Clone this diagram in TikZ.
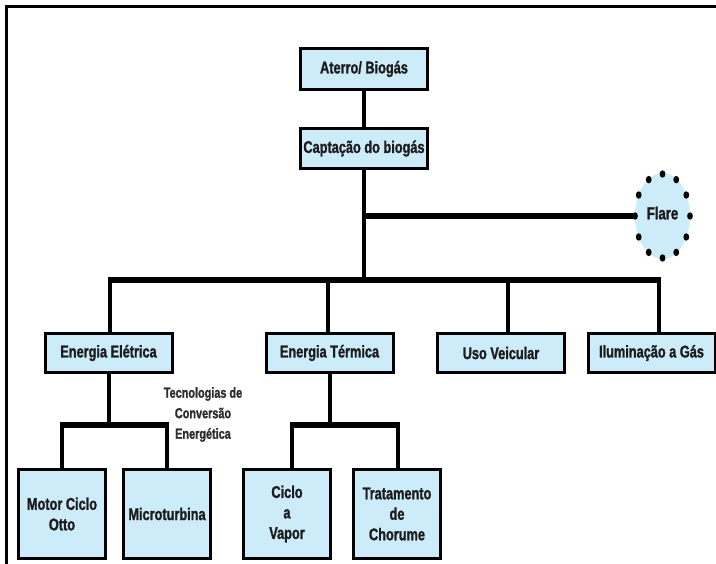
\documentclass[tikz,border=0pt]{standalone}
\usepackage{fontspec}
\setmainfont{Liberation Sans}[FakeStretch=0.75, FakeBold=1.3]
\usetikzlibrary{shapes.geometric}
\definecolor{boxfill}{RGB}{205,236,250}
\definecolor{boxtext}{RGB}{28,28,28}
\definecolor{notetext}{RGB}{45,45,45}
\begin{document}
\begin{tikzpicture}[x=1pt,y=-1pt,
  boxn/.style={draw=black, line width=3pt, fill=boxfill, inner sep=0pt, outer sep=0pt,
    align=center, font=\fontsize{17}{20.5}\selectfont\bfseries, text=boxtext},
  wide/.style={minimum width=127pt, minimum height=39pt},
  tall/.style={minimum width=87pt, minimum height=89pt},
  conn/.style={line width=4pt},
  bus/.style={line width=6pt},
  frameline/.style={line width=3pt}]
\useasboundingbox (0,0) rectangle (716,564);
\fill[white] (0,0) rectangle (716,564);
\draw[frameline] (6.5,564) -- (6.5,6.5) -- (716,6.5);

% boxes
\node[boxn, minimum width=127pt, minimum height=41pt] (aterro) at (364,69) {Aterro/ Biogás};
\node[boxn, minimum width=127pt, minimum height=40pt] (capt) at (364,148.5) {Captação do biogás};
\node[boxn, wide] (eletr) at (108.5,353) {Energia Elétrica};
\node[boxn, wide] (term) at (329.5,353) {Energia Térmica};
\node[boxn, wide] (uso) at (501,353) {Uso Veicular};
\node[boxn, wide] (ilum) at (651.5,353) {Iluminação a Gás};
\node[boxn, tall] (motor) at (62,514) {Motor Ciclo\\Otto};
\node[boxn, tall] (micro) at (167,514) {Microturbina};
\node[boxn, tall] (ciclo) at (287,514) {Ciclo\\a\\Vapor};
\node[boxn, tall] (trat) at (397,514) {Tratamento\\de\\Chorume};

% flare
\node[ellipse, fill=boxfill, minimum width=55pt, minimum height=86pt, inner sep=0pt,
  font=\fontsize{17.5}{18}\selectfont\bfseries, text=boxtext] (flare) at (662.5,216) {\raisebox{6pt}{Flare}};
\foreach \a in {0,30,...,330}
  \fill[black] ([shift={(\a:27.5 and 42)}]flare.center) ellipse (2.9 and 3.7);

% note
\node[align=center, font=\fontsize{14.5}{20.5}\selectfont\bfseries, text=notetext, inner sep=0pt]
  (note) at (203,414.5) {Tecnologias de\\Conversão\\Energética};

% connectors
\draw[conn] (aterro.south) -- (capt.north);
\coordinate (busL) at (108,280);
\coordinate (busR) at (661,280);
\coordinate (d1) at (110,280);
\coordinate (d2) at (327.5,280);
\coordinate (d3) at (508,280);
\coordinate (d4) at (659,280);
\draw[conn] (capt.south) -- (capt.south |- busL);
\draw[bus] (capt.south |- flare.west) -- (flare.west);
\draw[bus] (busL) -- (busR);
\draw[conn] (d1) -- (d1 |- eletr.north);
\draw[conn] (d2) -- (d2 |- term.north);
\draw[conn] (d3) -- (d3 |- uso.north);
\draw[conn] (d4) -- (d4 |- ilum.north);

\coordinate (e1) at (62,425.5);
\coordinate (e2) at (167,425.5);
\draw[conn] (eletr.south) -- (eletr.south |- e1);
\draw[bus] ([xshift=-2pt]e1) -- ([xshift=2pt]e2);
\draw[conn] (e1) -- (motor.north);
\draw[conn] (e2) -- (micro.north);

\coordinate (t1) at (292,425.5);
\coordinate (t2) at (398,425.5);
\draw[conn] (term.south) -- (term.south |- t1);
\draw[bus] ([xshift=-2pt]t1) -- ([xshift=2pt]t2);
\draw[conn] (t1) -- (t1 |- ciclo.north);
\draw[conn] (t2) -- (t2 |- trat.north);
\end{tikzpicture}
\end{document}
